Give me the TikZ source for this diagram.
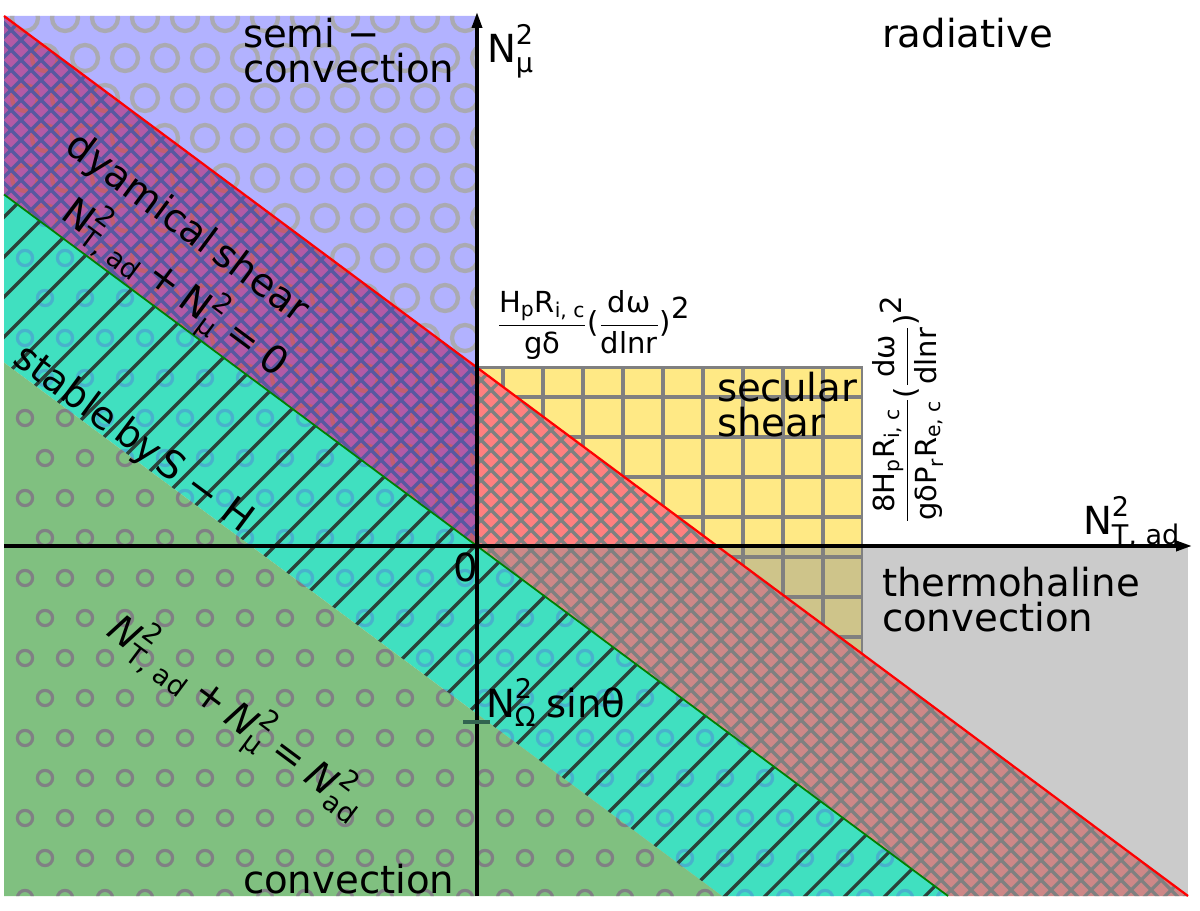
\documentclass[tikz,border=0pt]{standalone}
\usepackage{fontspec}
\usepackage{amsmath}
\setmainfont{DejaVu Sans}
\usetikzlibrary{arrows.meta}
\definecolor{cblue}{RGB}{178,178,255}
\definecolor{cpurple}{RGB}{178,90,166}
\definecolor{cred}{RGB}{255,128,128}
\definecolor{credgrey}{RGB}{205,136,136}
\definecolor{cyellow}{RGB}{255,233,133}
\definecolor{ctan}{RGB}{206,196,138}
\definecolor{cgrey}{RGB}{203,203,203}
\definecolor{ccyan}{RGB}{64,224,192}
\definecolor{cgreen}{RGB}{128,192,128}
\definecolor{hgrey}{RGB}{128,128,128}
\definecolor{hblue}{RGB}{88,88,160}
\definecolor{circgrey}{RGB}{170,170,178}
\definecolor{circred}{RGB}{192,94,112}
\definecolor{circsmall}{RGB}{128,128,132}
\definecolor{circcyan}{RGB}{72,178,204}
\definecolor{hdark}{RGB}{42,66,58}
\definecolor{tickc}{RGB}{50,100,80}
\definecolor{lgreen}{RGB}{0,128,0}
\newcommand\bigf{\fontsize{22}{26}\selectfont}
\newcommand\fracf{\fontsize{16.5}{20}\selectfont}
\newcommand\tplus{\mathbin{\text{+}}}
\newcommand\teq{\mathrel{\text{=}}}
\newcommand\Nsq[1]{\text{N}^{\text{2}}_{\text{#1}}}
\newcommand\Nisq[1]{\text{\itshape N}^{\text{2}}_{\text{#1}}}
\begin{document}
\begin{tikzpicture}[x=0.02cm,y=-0.02cm,
  every node/.style={inner sep=0pt,outer sep=0pt,font=\bigf},
  lbl/.style={anchor=base west},
  rot/.style={rotate=-36.62},
  bigcirc/.style={line width=0.085cm},
  smallcirc/.style={line width=0.064cm},
  hatchline/.style={line width=0.064cm},
  axisline/.style={line width=0.07cm,-{Triangle[length=0.32cm,width=0.2cm]}}]
\useasboundingbox (0,0) rectangle (1200,911);
% key points
\coordinate (TL) at (4,16);
\coordinate (TY) at (477,16);
\coordinate (RY) at (477,367.5);
\coordinate (RX) at (717,546);
\coordinate (BR) at (1188,896);
\coordinate (O) at (477,546);
\coordinate (GL) at (4,194.5);
\coordinate (GB) at (948,896);
\coordinate (CL) at (4,362.5);
\coordinate (CB) at (722,896);
\coordinate (BL) at (4,896);
\coordinate (XR) at (1188,546);
\coordinate (OB) at (477,896);
\coordinate (YTR) at (862,367.5);
\coordinate (YAX) at (862,546);
\coordinate (YR) at (862,653.7);
\coordinate (XL) at (4,546);
\coordinate (XTip) at (1192,546);
\coordinate (YTip) at (477,12);
\coordinate (T1) at (463,722);
\coordinate (T2) at (490,722);
% fills
\fill[cgrey] (O) -- (XR) -- (BR) -- (OB) -- cycle;
\fill[cyellow] (RY) -- (YTR) -- (YAX) -- (RX) -- cycle;
\fill[ctan] (RX) -- (YAX) -- (YR) -- cycle;
\fill[cpurple] (TL) -- (RY) -- (O) -- (GL) -- cycle;
\fill[cred] (RY) -- (RX) -- (O) -- cycle;
\fill[credgrey] (O) -- (RX) -- (BR) -- (GB) -- cycle;
\fill[cblue] (TL) -- (TY) -- (RY) -- cycle;
\fill[ccyan] (GL) -- (O) -- (GB) -- (CB) -- (CL) -- cycle;
\fill[cgreen] (CL) -- (CB) -- (BL) -- cycle;
% semi-convection circles
\begin{scope}
\clip (TL) -- (TY) -- (RY) -- cycle;
\foreach \j in {0,...,9} {\foreach \i in {0,...,11} {
  \draw[circgrey,bigcirc] ({25+40*\i+20*mod(\j,2)},{18+40*\j}) circle[radius=13];}}
\end{scope}
% dynamical shear band (upper left)
\begin{scope}
\clip (TL) -- (RY) -- (O) -- (GL) -- cycle;
\foreach \j in {0,...,14} {\foreach \i in {0,...,11} {
  \draw[circred,bigcirc] ({25+40*\i+20*mod(\j,2)},{18+40*\j}) circle[radius=13];}}
\foreach \c in {1,21,...,1301} {\draw[hblue,hatchline] (\c,0) -- ({\c-1000},1000);}
\foreach \d in {-899,-879,...,501} {\draw[hblue,hatchline] (\d,0) -- ({\d+1000},1000);}
\end{scope}
% shear band (right)
\begin{scope}
\clip (RY) -- (RX) -- (BR) -- (GB) -- (O) -- cycle;
\foreach \c in {801,821,...,2101} {\draw[hgrey,hatchline] (\c,0) -- ({\c-1000},1000);}
\foreach \d in {-519,-499,...,1201} {\draw[hgrey,hatchline] (\d,0) -- ({\d+1000},1000);}
\end{scope}
% stable by S-H band
\begin{scope}
\clip (GL) -- (O) -- (GB) -- (CB) -- (CL) -- cycle;
\foreach \j in {4,...,22} {\foreach \i in {0,...,23} {
  \draw[circcyan,smallcirc] ({25+40*\i+20*mod(\j,2)},{18+40*\j}) circle[radius=7.6];}}
\foreach \c in {181,221,...,1901} {\draw[hdark,hatchline] (\c,0) -- ({\c-1000},1000);}
\end{scope}
% convection region
\begin{scope}
\clip (CL) -- (CB) -- (BL) -- cycle;
\foreach \j in {8,...,22} {\foreach \i in {0,...,18} {
  \draw[circsmall,smallcirc] ({25+40*\i+20*mod(\j,2)},{18+40*\j}) circle[radius=7.6];}}
\end{scope}
% secular shear grid
\begin{scope}
\clip (RY) -- (YTR) -- (YR) -- cycle;
\foreach \x in {503,543,...,823} {\draw[hgrey,hatchline] (\x,360) -- (\x,670);}
\foreach \y in {397,437,...,637} {\draw[hgrey,hatchline] (470,\y) -- (870,\y);}
\end{scope}
\draw[hgrey,line width=0.045cm] (RY) -- (YTR) -- (YR);
% boundary lines
\draw[red,line width=0.045cm] (TL) -- (BR);
\draw[lgreen,line width=0.035cm] (GL) -- (GB);
% axes
\draw[axisline] (OB) -- (YTip);
\draw[axisline] (XL) -- (XTip);
\draw[tickc,line width=0.07cm] (T1) -- (T2);
% labels
\node[lbl] (semi1) at (243,48) {semi −};
\node[lbl] (semi2) at (243,83) {convection};
\node[lbl] (rad) at (882,48) {radiative};
\node[lbl] (sec1) at (717,402) {secular};
\node[lbl] (sec2) at (717,437) {shear};
\node[lbl] (th1) at (882,597) {thermohaline};
\node[lbl] (th2) at (882,632) {convection};
\node[lbl] (conv) at (243,893) {convection};
\node (zero) at (466,567) {0};
\node[lbl] (nmu) at (487,63) {$\Nsq{μ}$};
\node[lbl] (nt) at (1083,535) {$\Nsq{T, ad}$};
\node[lbl] (nom) at (486,717) {$\Nsq{Ω}\;\text{sinθ}$};
\node[anchor=west,font=\fracf] (f1) at (497,325)
  {$\dfrac{\text{H}_{\text{p}}\text{R}_{\text{i, c}}}{\text{gδ}}\text{(}\dfrac{\text{dω}}{\text{dlnr}}\text{)}^{\textstyle\text{2}}$};
\node[rotate=90,font=\fracf] (f2) at (908,409)
  {$\dfrac{\text{8H}_{\text{p}}\text{R}_{\text{i, c}}}{\text{gδP}_{\text{r}}\text{R}_{\text{e, c}}}\text{(}\dfrac{\text{dω}}{\text{dlnr}}\text{)}^{\textstyle\text{2}}$};
\node[rot] (ds1) at (187,229) {dyamical\hspace{0.2em}shear};
\node[rot] (ds2) at (175,288) {$\Nsq{T, ad}\tplus\Nsq{μ}\teq\text{0}$};
\node[rot] (sh) at (133,440) {stable\hspace{0.2em}by\hspace{0.1em}S − H};
\node[rot] (eq) at (237,717) {$\Nisq{T, ad}\tplus\Nisq{μ}\teq\Nisq{ad}$};
\end{tikzpicture}
\end{document}
